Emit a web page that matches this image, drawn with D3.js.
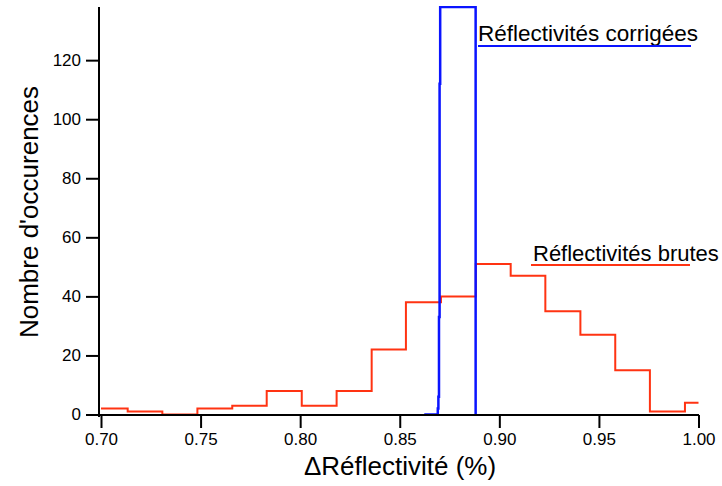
<!DOCTYPE html>
<html>
<head>
<meta charset="utf-8">
<script src="https://cdn.jsdelivr.net/npm/d3@7"></script>
<style>
  body { margin: 0; background: #fff; }
  text { font-family: "Liberation Sans", Arial, sans-serif; fill: #000; }
</style>
</head>
<body>
<script>
// raw reflectivity histogram (red): left bin edges + counts
var rawEdges = [0.70, 0.7134, 0.7308, 0.7484, 0.7659, 0.7832, 0.8008, 0.8183, 0.8359,
                0.8531, 0.8707, 0.8882, 0.9057, 0.9231, 0.9407, 0.9582, 0.9756, 0.9932]
var rawCounts = [2, 1, 0, 2, 3, 8, 3, 8, 22, 38, 40, 51, 47, 35, 27, 15, 1, 4]
var rawEnd = 1.00

// corrected reflectivity histogram (blue)
var corrEdges = [0.8623, 0.8691, 0.8694, 0.8697, 0.8700, 0.8703]
var corrCounts = [0, 2, 6, 33, 112, 138]
var corrEnd = 0.8881

var xTicks = [0.70, 0.75, 0.80, 0.85, 0.90, 0.95, 1.00]
var yTicks = [0, 20, 40, 60, 80, 100, 120]

var width = 722, height = 486

var x = d3.scaleLinear().domain([0.70, 1.00]).range([101, 698.5])
var y = d3.scaleLinear().domain([0, 138]).range([414.5, 7])

var svg = d3.select('body').append('svg').attr('width', width).attr('height', height)

svg.append('clipPath').attr('id', 'plot')
    .append('rect').attr('x', 99).attr('y', 6).attr('width', 602).attr('height', 412)

var line = d3.line()
    .x(d => x(d[0]))
    .y(d => y(d[1]))
    .curve(d3.curveStepAfter)

var rawPts = rawEdges.map((e, i) => [e, rawCounts[i]])
rawPts.push([rawEnd, rawCounts[rawCounts.length - 1]])
var corrPts = corrEdges.map((e, i) => [e, corrCounts[i]])
corrPts.push([corrEnd, 0])

var plot = svg.append('g').attr('clip-path', 'url(#plot)')
plot.append('path').attr('d', line(rawPts))
    .attr('fill', 'none').attr('stroke', '#ff3312').attr('stroke-width', 2)
plot.append('path').attr('d', line(corrPts))
    .attr('fill', 'none').attr('stroke', '#0a14ff').attr('stroke-width', 2.5)

// axes
var xAxis = d3.axisBottom(x).tickValues(xTicks).tickFormat(d3.format('.2f'))
    .tickSizeInner(13).tickSizeOuter(0).tickPadding(5)
var yAxis = d3.axisLeft(y).tickValues(yTicks)
    .tickSizeInner(13).tickSizeOuter(0).tickPadding(5)

var gx = svg.append('g').attr('transform', 'translate(0,415)').call(xAxis)
var gy = svg.append('g').attr('transform', 'translate(99,0)').call(yAxis)
gx.select('.domain').attr('d', 'M99,0H699')
gy.select('.domain').attr('d', 'M0,7V417')
svg.selectAll('.domain, .tick line').attr('stroke', '#000').attr('stroke-width', 2)
svg.selectAll('.tick text').attr('font-size', 17).attr('fill', '#000')
    .style('font-family', '"Liberation Sans", Arial, sans-serif')

// axis titles
svg.append('text').attr('x', 400).attr('y', 475).attr('text-anchor', 'middle')
    .attr('font-size', 26).text('\u0394Réflectivité (%)')
svg.append('text').attr('transform', 'translate(38,212) rotate(-90)')
    .attr('text-anchor', 'middle').attr('font-size', 26).text("Nombre d'occurences")

// series labels with underline
svg.append('text').attr('x', 478).attr('y', 41).attr('font-size', 22.5).text('Réflectivités corrigées')
svg.append('line').attr('x1', 478).attr('x2', 691).attr('y1', 46).attr('y2', 46)
    .attr('stroke', '#0a14ff').attr('stroke-width', 2)
svg.append('text').attr('x', 533).attr('y', 261).attr('font-size', 22).text('Réflectivités brutes')
svg.append('line').attr('x1', 531).attr('x2', 690).attr('y1', 265).attr('y2', 265)
    .attr('stroke', '#ff3312').attr('stroke-width', 2)
</script>
</body>
</html>
